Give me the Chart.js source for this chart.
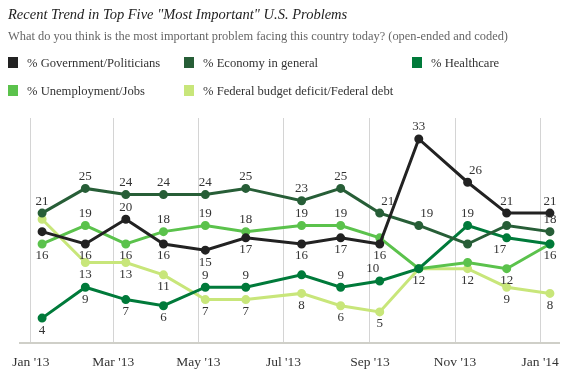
<!DOCTYPE html>
<html>
<head>
<meta charset="utf-8">
<script src="https://cdn.jsdelivr.net/npm/chart.js@4.4.1/dist/chart.umd.min.js"></script>
<style>
  body { margin: 0; background: #fff; overflow: hidden; }
  #wrap { position: relative; width: 571px; height: 374px; }
  #wrap canvas { position: absolute; left: 0; top: 0; }
  .txt { position: absolute; white-space: nowrap; font-family: "Liberation Serif", "DejaVu Serif", serif; }
  #title { left: 8px; top: 6px; font-size: 14.5px; font-style: italic; color: #222; }
  #subtitle { left: 8px; top: 29px; font-size: 12.4px; color: #666; }
  .leg { position: absolute; font-family: "Liberation Serif", serif; font-size: 12.6px; color: #333; white-space: nowrap; }
  .leg span { display: inline-block; width: 10px; height: 11px; margin-right: 9px; vertical-align: -1px; }
</style>
</head>
<body>
<div id="wrap">
  <canvas id="trendChart"></canvas>
  <div class="txt" id="title">Recent Trend in Top Five "Most Important" U.S. Problems</div>
  <div class="txt" id="subtitle">What do you think is the most important problem facing this country today? (open-ended and coded)</div>
</div>
<script>
// survey dates (approximate field dates)
const surveyDates = ['2013-01-09', '2013-02-09', '2013-03-10', '2013-04-06', '2013-05-06', '2013-06-04',
    '2013-07-14', '2013-08-11', '2013-09-08', '2013-10-06', '2013-11-10', '2013-12-08', '2014-01-08'];

const government   = [18, 16, 20, 16, 15, 17, 16, 17, 16, 33, 26, 21, 21];
const economy      = [21, 25, 24, 24, 24, 25, 23, 25, 21, 19, 16, 19, 18];
const healthcare   = [4, 9, 7, 6, 9, 9, 11, 9, 10, 12, 19, 17, 16];
const unemployment = [16, 19, 16, 18, 19, 18, 19, 19, 17, 12, 13, 12, 16];
const budget       = [20, 13, 13, 11, 7, 7, 8, 6, 5, 12, 12, 9, 8];

const tickDates  = ['2013-01-01', '2013-03-01', '2013-05-01', '2013-07-01', '2013-09-01', '2013-11-01', '2014-01-01'];
const tickLabels = ["Jan '13", "Mar '13", "May '13", "Jul '13", "Sep '13", "Nov '13", "Jan '14"];

const seriesNames = ['% Government/Politicians', '% Economy in general', '% Healthcare',
    '% Unemployment/Jobs', '% Federal budget deficit/Federal debt'];

// which value labels are shown and where (a = above, b = below, r/l = nudge)
const labelSpots = [
    [null, 'b', 'a', 'b', 'b', 'b', 'b', 'b', 'b', 'a', 'ar', 'a', 'a'],
    ['a', 'a', 'a', 'a', 'a', 'a', 'a', 'a', 'ar', 'ar', null, null, 'a'],
    ['b', 'b', 'b', 'b', 'a', 'a', null, 'a', 'al', null, 'a', 'bl', null],
    ['b', 'a', 'b', 'a', 'a', 'a', 'a', 'a', null, null, null, 'b', 'b'],
    [null, 'b', 'b', 'b', 'b', 'b', 'b', 'b', 'b', 'b', 'b', 'b', 'b']
];

const colors = ['#222222', '#275e37', '#007a3a', '#5bc24c', '#c8e67a'];

function dayOf(s) {
    const p = s.split('-').map(Number);
    return (Date.UTC(p[0], p[1] - 1, p[2]) - Date.UTC(2013, 0, 1)) / 86400000;
}

const xs = surveyDates.map(dayOf);
const allValues = [government, economy, healthcare, unemployment, budget];

// HTML legend
const legPos = [[8, 56], [184, 56], [412, 56], [8, 84], [184, 84]];
seriesNames.forEach((name, i) => {
    const el = document.createElement('div');
    el.className = 'leg';
    el.style.left = legPos[i][0] + 'px';
    el.style.top = legPos[i][1] + 'px';
    el.innerHTML = '<span style="background:' + colors[i] + '"></span>' + name;
    document.getElementById('wrap').appendChild(el);
});

const datasets = allValues.map((vals, i) => ({
    label: seriesNames[i],
    data: vals.map((v, j) => ({ x: xs[j], y: v })),
    borderColor: colors[i],
    backgroundColor: colors[i],
    borderWidth: 3,
    pointRadius: 3,
    pointHoverRadius: 3,
    tension: 0,
    order: i
}));

// draws the number labels next to points
const valueLabels = {
    id: 'valueLabels',
    afterDatasetsDraw(chart) {
        const ctx = chart.ctx;
        ctx.save();
        ctx.font = '13px "Liberation Serif", serif';
        ctx.fillStyle = '#333';
        ctx.textAlign = 'center';
        ctx.textBaseline = 'middle';
        chart.data.datasets.forEach((ds, i) => {
            const meta = chart.getDatasetMeta(i);
            meta.data.forEach((pt, j) => {
                const spot = labelSpots[i][j];
                if (!spot) return;
                let dy = spot[0] === 'a' ? -12 : 12;
                let dx = 0;
                if (spot.indexOf('r') > 0) dx = 8;
                if (spot.indexOf('l') > 0) dx = -7;
                ctx.fillText(String(ds.data[j].y), pt.x + dx, pt.y + dy);
            });
        });
        ctx.restore();
    }
};

const ctx = document.getElementById('trendChart').getContext('2d');
const trendChart = new Chart(ctx, {
    type: 'line',
    data: { datasets: datasets },
    plugins: [valueLabels],
    options: {
        responsive: true,
        maintainAspectRatio: false,
        animation: false,
        layout: { padding: { left: 17, right: 8, top: 118, bottom: -9 } },
        scales: {
            x: {
                type: 'linear',
                min: -8,
                max: 379,
                afterBuildTicks: (scale) => {
                    scale.ticks = tickDates.map(d => ({ value: dayOf(d) }));
                },
                ticks: {
                    padding: 12,
                    autoSkip: false,
                    maxRotation: 0,
                    color: '#333',
                    font: { family: '"Liberation Serif", serif', size: 13.5 },
                    callback: (v, idx) => tickLabels[idx]
                },
                grid: { color: '#d4d4d4', drawTicks: false },
                border: { color: '#cfcfc8', width: 2 }
            },
            y: {
                display: false,
                min: 0,
                max: 36.4
            }
        },
        plugins: {
            legend: { display: false },
            tooltip: { enabled: false }
        }
    }
});
</script>
</body>
</html>
